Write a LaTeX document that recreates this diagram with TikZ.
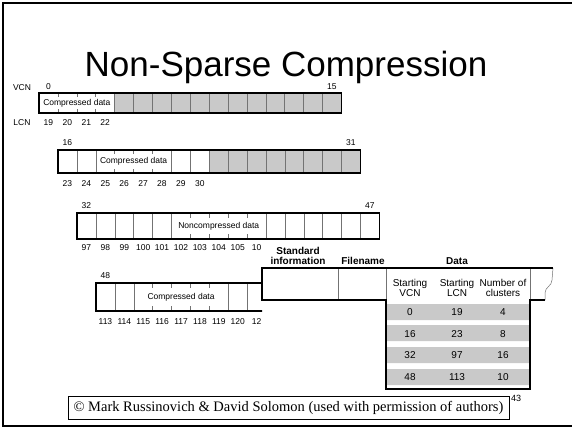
\documentclass[tikz,border=0pt]{standalone}
\usepackage{fontspec}
\setmainfont{Liberation Sans}
\newfontfamily\timesfont{Liberation Serif}
\usetikzlibrary{calc}

\def\cw{18.9}

\tikzset{
  lbl/.style={font=\fontsize{8.5}{9}\selectfont, inner sep=0pt},
  hdr/.style={font=\bfseries\fontsize{10}{10}\selectfont, align=center, inner sep=0pt},
  col/.style={font=\fontsize{10}{9.5}\selectfont, align=center, inner sep=0pt},
  cellline/.style={draw=black!55, line width=0.5pt},
  boxline/.style={line width=1.4pt},
  shade/.style={fill=black!21},
}

\begin{document}
\begin{tikzpicture}[x=1pt,y=-1pt]
\useasboundingbox (0,0) rectangle (572,429);

% slide frame
\draw[line width=2pt] (572,2.5) -- (3,2.5) -- (3,426) -- (572,426);
\node[anchor=base, font=\fontsize{35}{40}\selectfont, inner sep=0pt] (title) at (286,76) {Non-Sparse Compression};

\node[lbl] (vcn) at (22,88) {VCN};
\node[lbl] (lcn) at (22,123) {LCN};

% VCN 0-15
\begin{scope}[shift={(39,93)}]
\def\rh{20}
\fill[shade] (4*\cw,0) rectangle (16*\cw,\rh);
\foreach \i in {4,...,15} \draw[cellline] (\i*\cw,0) -- (\i*\cw,\rh);
\foreach \i in {1,2,3} \draw[cellline] (\i*\cw,0) -- ++(0,4) (\i*\cw,\rh) -- ++(0,-4);
\draw[boxline] (0,0) rectangle (16*\cw,\rh);
\node[lbl] (cd-a) at (2*\cw,\rh/2) {Compressed data};
\node[lbl] (v-a) at (0.5*\cw,-6) {0};
\node[lbl] (w-a) at (15.5*\cw,-6) {15};
\foreach \n [count=\i from 0] in {19,20,21,22}
  \node[lbl] (l\n) at ({(\i+0.5)*\cw},\rh+10) {\n};
\end{scope}

% VCN 16-31
\begin{scope}[shift={(58,150)}]
\def\rh{23}
\fill[shade] (8*\cw,0) rectangle (16*\cw,\rh);
\foreach \i in {1,2,6,7,8,...,15} \draw[cellline] (\i*\cw,0) -- (\i*\cw,\rh);
\foreach \i in {3,4,5} \draw[cellline] (\i*\cw,0) -- ++(0,4) (\i*\cw,\rh) -- ++(0,-4);
\draw[boxline] (0,0) rectangle (16*\cw,\rh);
\node[lbl] (cd-b) at (4*\cw,\rh/2) {Compressed data};
\node[lbl] (v-b) at (0.5*\cw,-7) {16};
\node[lbl] (w-b) at (15.5*\cw,-7) {31};
\foreach \n [count=\i from 0] in {23,...,30}
  \node[lbl] (l\n) at ({(\i+0.5)*\cw},\rh+11) {\n};
\end{scope}

% VCN 32-47
\begin{scope}[shift={(77,213)}]
\def\rh{26}
\foreach \i in {1,...,5,10,11,...,15} \draw[cellline] (\i*\cw,0) -- (\i*\cw,\rh);
\foreach \i in {6,...,9} \draw[cellline] (\i*\cw,0) -- ++(0,5) (\i*\cw,\rh) -- ++(0,-5);
\draw[boxline] (0,0) rectangle (16*\cw,\rh);
\node[lbl] (cd-c) at (7.5*\cw,\rh/2) {Noncompressed data};
\node[lbl] (v-c) at (0.5*\cw,-7) {32};
\node[lbl] (w-c) at (15.5*\cw,-7) {47};
\foreach \n [count=\i from 0] in {97,98,99,100,101,102,103,104,105,10}
  \node[lbl] (m\i) at ({(\i+0.5)*\cw},\rh+9) {\n};
\end{scope}

% VCN 48-
\begin{scope}[shift={(96,283)}]
\def\rh{28}
\clip (-10,-20) rectangle (166,45);
\foreach \i in {1,2,7,8,...,15} \draw[cellline] (\i*\cw,0) -- (\i*\cw,\rh);
\foreach \i in {3,...,6} \draw[cellline] (\i*\cw,0) -- ++(0,5) (\i*\cw,\rh) -- ++(0,-5);
\draw[boxline] (0,0) rectangle (16*\cw,\rh);
\node[lbl] (cd-d) at (4.5*\cw,\rh/2) {Compressed data};
\node[lbl] (v-d) at (0.5*\cw,-7) {48};
\foreach \n [count=\i from 0] in {113,...,120,12}
  \node[lbl] (n\i) at ({(\i+0.5)*\cw},\rh+11) {\n};
\end{scope}

% MFT record
\fill[white] (262,268) rectangle (553,300) (386,300) rectangle (530,389);
\fill[shade] (386,304) rectangle (530,320) (386,325) rectangle (530,341)
  (386,347) rectangle (530,363) (386,369) rectangle (530,385);
\draw[cellline] (338,268) -- (338,300) (386,268) -- (386,300) (530,268) -- (530,300);
\draw[cellline] (545,300) -- (545,293) .. controls (545,287) and (552,286) .. (552,280) -- (553,268);
\draw[boxline] (553,268) -- (262,268) -- (262,300) -- (386,300) -- (386,389)
  -- (530,389) -- (530,300) -- (545,300);

\node[hdr] (std) at (298,255.5) {Standard\\information};
\node[hdr] (fname) at (363,261) {Filename};
\node[hdr] (data) at (457,261) {Data};
\node[col] (svcn) at (410,288) {Starting\\VCN};
\node[col] (slcn) at (457,288) {Starting\\LCN};
\node[col] (ncl) at (503,288) {Number of\\clusters};
\foreach \a/\b/\c [count=\k from 0] in {0/19/4,16/23/8,32/97/16,48/113/10} {
  \node[col] (r\k a) at (410,312+21.6*\k) {\a};
  \node[col] (r\k b) at (457,312+21.6*\k) {\b};
  \node[col] (r\k c) at (503,312+21.6*\k) {\c};
}

\node[draw, line width=0.5pt, minimum width=441pt, minimum height=23pt, inner sep=0pt,
  font=\timesfont\fontsize{14.5}{16}\selectfont] (credit) at (288.5,407.5)
  {\textcopyright{} Mark Russinovich \& David Solomon (used with permission of authors)};
\node[lbl, font=\fontsize{9}{10}\selectfont] (pg) at (516,398) {43};
\end{tikzpicture}
\end{document}
